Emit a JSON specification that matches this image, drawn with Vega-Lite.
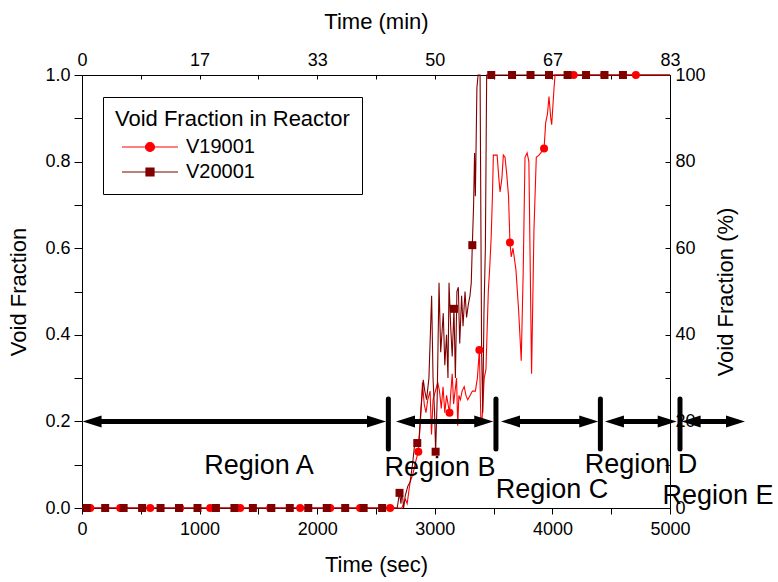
{
"$schema": "https://vega.github.io/schema/vega-lite/v6.json",
"width": 588, "height": 433,
"autosize": {"type": "none"},
"padding": {"left": 82, "top": 75, "right": 108, "bottom": 74},
"background": "white",
"config": {
  "view": {"stroke": null},
  "font": "Liberation Sans",
  "axis": {"domainColor": "black", "domainWidth": 1, "tickColor": "black", "tickWidth": 1, "labelColor": "black", "titleColor": "black", "labelFont": "Liberation Sans", "titleFont": "Liberation Sans", "labelFontSize": 18, "titleFontSize": 22, "titleFontWeight": "normal", "grid": false, "labelOverlap": false, "labelFlush": false},
  "legend": {"orient": "none", "legendX": 21, "legendY": 22, "padding": 12, "strokeColor": "black", "fillColor": "white",
    "titleFont": "Liberation Sans", "titleFontSize": 22, "titleFontWeight": "normal", "titleColor": "black", "titlePadding": 6, "titleLimit": 500,
    "labelFont": "Liberation Sans", "labelFontSize": 20, "labelColor": "black", "rowPadding": 5, "labelLimit": 300,
    "symbolSize": 64, "symbolOffset": 25, "labelOffset": 26, "symbolStrokeWidth": 1.2}
},
"datasets": {
  "curves": [
    {"series":"V19001","t":0,"v":0},{"series":"V19001","t":2700,"v":0},{"series":"V19001","t":2720,"v":0},{"series":"V19001","t":2750,"v":0.02},{"series":"V19001","t":2765,"v":0.01},{"series":"V19001","t":2790,"v":0.06},{"series":"V19001","t":2815,"v":0.08},{"series":"V19001","t":2840,"v":0.11},{"series":"V19001","t":2860,"v":0.13},{"series":"V19001","t":2878,"v":0.2},{"series":"V19001","t":2895,"v":0.29},{"series":"V19001","t":2910,"v":0.24},{"series":"V19001","t":2925,"v":0.22},{"series":"V19001","t":2940,"v":0.25},{"series":"V19001","t":2960,"v":0.27},{"series":"V19001","t":2972,"v":0.17},{"series":"V19001","t":2985,"v":0.25},{"series":"V19001","t":3005,"v":0.27},{"series":"V19001","t":3025,"v":0.29},{"series":"V19001","t":3040,"v":0.27},{"series":"V19001","t":3055,"v":0.23},{"series":"V19001","t":3070,"v":0.28},{"series":"V19001","t":3085,"v":0.22},{"series":"V19001","t":3100,"v":0.26},{"series":"V19001","t":3125,"v":0.22},{"series":"V19001","t":3137,"v":0.27},{"series":"V19001","t":3148,"v":0.31},{"series":"V19001","t":3160,"v":0.24},{"series":"V19001","t":3172,"v":0.27},{"series":"V19001","t":3185,"v":0.30},{"series":"V19001","t":3195,"v":0.19},{"series":"V19001","t":3205,"v":0.26},{"series":"V19001","t":3218,"v":0.25},{"series":"V19001","t":3232,"v":0.27},{"series":"V19001","t":3250,"v":0.28},{"series":"V19001","t":3265,"v":0.26},{"series":"V19001","t":3280,"v":0.25},{"series":"V19001","t":3300,"v":0.26},{"series":"V19001","t":3320,"v":0.27},{"series":"V19001","t":3345,"v":0.27},{"series":"V19001","t":3362,"v":0.30},{"series":"V19001","t":3379,"v":0.365},{"series":"V19001","t":3392,"v":0.2},{"series":"V19001","t":3403,"v":0.21},{"series":"V19001","t":3420,"v":0.30},{"series":"V19001","t":3435,"v":0.32},{"series":"V19001","t":3455,"v":0.50},{"series":"V19001","t":3468,"v":0.56},{"series":"V19001","t":3480,"v":0.63},{"series":"V19001","t":3490,"v":0.72},{"series":"V19001","t":3498,"v":0.815},{"series":"V19001","t":3530,"v":0.815},{"series":"V19001","t":3545,"v":0.76},{"series":"V19001","t":3555,"v":0.73},{"series":"V19001","t":3570,"v":0.76},{"series":"V19001","t":3583,"v":0.815},{"series":"V19001","t":3597,"v":0.81},{"series":"V19001","t":3612,"v":0.77},{"series":"V19001","t":3627,"v":0.72},{"series":"V19001","t":3639,"v":0.613},{"series":"V19001","t":3650,"v":0.58},{"series":"V19001","t":3665,"v":0.60},{"series":"V19001","t":3690,"v":0.55},{"series":"V19001","t":3712,"v":0.46},{"series":"V19001","t":3735,"v":0.34},{"series":"V19001","t":3752,"v":0.55},{"series":"V19001","t":3767,"v":0.81},{"series":"V19001","t":3785,"v":0.82},{"series":"V19001","t":3800,"v":0.80},{"series":"V19001","t":3823,"v":0.31},{"series":"V19001","t":3843,"v":0.64},{"series":"V19001","t":3863,"v":0.81},{"series":"V19001","t":3886,"v":0.815},{"series":"V19001","t":3929,"v":0.83},{"series":"V19001","t":3943,"v":0.89},{"series":"V19001","t":3958,"v":0.91},{"series":"V19001","t":3971,"v":0.95},{"series":"V19001","t":3986,"v":0.90},{"series":"V19001","t":3994,"v":0.885},{"series":"V19001","t":4014,"v":0.97},{"series":"V19001","t":4023,"v":1.0},{"series":"V19001","t":5000,"v":1.0},
    {"series":"V20001","t":0,"v":0},{"series":"V20001","t":2680,"v":0},{"series":"V20001","t":2700,"v":0.035},{"series":"V20001","t":2712,"v":0.01},{"series":"V20001","t":2722,"v":0.04},{"series":"V20001","t":2735,"v":0.0},{"series":"V20001","t":2750,"v":0.03},{"series":"V20001","t":2770,"v":0.05},{"series":"V20001","t":2790,"v":0.06},{"series":"V20001","t":2810,"v":0.10},{"series":"V20001","t":2830,"v":0.15},{"series":"V20001","t":2851,"v":0.15},{"series":"V20001","t":2866,"v":0.16},{"series":"V20001","t":2880,"v":0.22},{"series":"V20001","t":2902,"v":0.296},{"series":"V20001","t":2915,"v":0.27},{"series":"V20001","t":2930,"v":0.25},{"series":"V20001","t":2950,"v":0.30},{"series":"V20001","t":2973,"v":0.49},{"series":"V20001","t":2985,"v":0.30},{"series":"V20001","t":2998,"v":0.22},{"series":"V20001","t":3007,"v":0.13},{"series":"V20001","t":3020,"v":0.25},{"series":"V20001","t":3036,"v":0.52},{"series":"V20001","t":3050,"v":0.36},{"series":"V20001","t":3060,"v":0.40},{"series":"V20001","t":3072,"v":0.45},{"series":"V20001","t":3085,"v":0.33},{"series":"V20001","t":3100,"v":0.40},{"series":"V20001","t":3112,"v":0.30},{"series":"V20001","t":3121,"v":0.52},{"series":"V20001","t":3135,"v":0.42},{"series":"V20001","t":3148,"v":0.35},{"series":"V20001","t":3163,"v":0.46},{"series":"V20001","t":3175,"v":0.30},{"series":"V20001","t":3188,"v":0.50},{"series":"V20001","t":3200,"v":0.51},{"series":"V20001","t":3212,"v":0.38},{"series":"V20001","t":3228,"v":0.49},{"series":"V20001","t":3240,"v":0.42},{"series":"V20001","t":3257,"v":0.50},{"series":"V20001","t":3270,"v":0.44},{"series":"V20001","t":3285,"v":0.47},{"series":"V20001","t":3299,"v":0.49},{"series":"V20001","t":3310,"v":0.52},{"series":"V20001","t":3319,"v":0.607},{"series":"V20001","t":3330,"v":0.70},{"series":"V20001","t":3338,"v":0.82},{"series":"V20001","t":3345,"v":0.72},{"series":"V20001","t":3358,"v":0.97},{"series":"V20001","t":3368,"v":1.0},{"series":"V20001","t":3385,"v":1.0},{"series":"V20001","t":3398,"v":0.36},{"series":"V20001","t":3408,"v":0.22},{"series":"V20001","t":3418,"v":0.45},{"series":"V20001","t":3430,"v":0.6},{"series":"V20001","t":3441,"v":1.0},{"series":"V20001","t":5000,"v":1.0}
  ],
  "symbols": [
    {"series":"V20001","t":40,"v":0},{"series":"V20001","t":197,"v":0},{"series":"V20001","t":354,"v":0},{"series":"V20001","t":511,"v":0},{"series":"V20001","t":668,"v":0},{"series":"V20001","t":825,"v":0},{"series":"V20001","t":982,"v":0},{"series":"V20001","t":1139,"v":0},{"series":"V20001","t":1296,"v":0},{"series":"V20001","t":1453,"v":0},{"series":"V20001","t":1610,"v":0},{"series":"V20001","t":1767,"v":0},{"series":"V20001","t":1924,"v":0},{"series":"V20001","t":2081,"v":0},{"series":"V20001","t":2238,"v":0},{"series":"V20001","t":2395,"v":0},{"series":"V20001","t":2552,"v":0},{"series":"V20001","t":2700,"v":0.035},{"series":"V20001","t":2851,"v":0.15},{"series":"V20001","t":3007,"v":0.13},{"series":"V20001","t":3163,"v":0.46},{"series":"V20001","t":3319,"v":0.607},{"series":"V20001","t":3480,"v":1},{"series":"V20001","t":3657,"v":1},{"series":"V20001","t":3814,"v":1},{"series":"V20001","t":3971,"v":1},{"series":"V20001","t":4129,"v":1},{"series":"V20001","t":4286,"v":1},{"series":"V20001","t":4443,"v":1},{"series":"V20001","t":4600,"v":1},
    {"series":"V19001","t":70,"v":0},{"series":"V19001","t":325,"v":0},{"series":"V19001","t":580,"v":0},{"series":"V19001","t":835,"v":0},{"series":"V19001","t":1090,"v":0},{"series":"V19001","t":1345,"v":0},{"series":"V19001","t":1600,"v":0},{"series":"V19001","t":1855,"v":0},{"series":"V19001","t":2110,"v":0},{"series":"V19001","t":2365,"v":0},{"series":"V19001","t":2620,"v":0},{"series":"V19001","t":2860,"v":0.13},{"series":"V19001","t":3125,"v":0.22},{"series":"V19001","t":3379,"v":0.365},{"series":"V19001","t":3639,"v":0.613},{"series":"V19001","t":3929,"v":0.83},{"series":"V19001","t":4180,"v":1},{"series":"V19001","t":4440,"v":1},{"series":"V19001","t":4710,"v":1}
  ],
  "arrows": [
    {"t1":5,"t2":2585,"s1":80,"s2":2510,"v":0.2},
    {"t1":2670,"t2":3497,"s1":2745,"s2":3422,"v":0.2},
    {"t1":3563,"t2":4390,"s1":3638,"s2":4315,"v":0.2},
    {"t1":4447,"t2":5057,"s1":4522,"s2":4982,"v":0.2},
    {"t1":5099,"t2":5638,"s1":5174,"s2":5563,"v":0.2}
  ],
  "bars": [
    {"t":2605,"v1":0.136,"v2":0.252},{"t":3520,"v1":0.136,"v2":0.252},{"t":4408,"v1":0.136,"v2":0.252},{"t":5085,"v1":0.136,"v2":0.252}
  ],
  "labels": [
    {"label":"Region A","t":1505,"v":0.097},{"label":"Region B","t":3044,"v":0.092},{"label":"Region C","t":3997,"v":0.042},{"label":"Region D","t":4754,"v":0.099},{"label":"Region E","t":5408,"v":0.028}
  ],
  "axes2": [{"t":0,"pct":0},{"t":5000,"pct":100}]
},
"layer": [
  {"layer": [
    {"data": {"values": []}, "mark": {"type": "point", "filled": true, "size": 64, "opacity": 1, "strokeWidth": 1.2},
     "encoding": {
       "color": {"field": "series", "type": "nominal", "legend": {"title": "Void Fraction in Reactor"}},
       "shape": {"field": "series", "type": "nominal", "scale": {"domain": ["V19001", "V20001"], "range": ["M-7,0H7M1.125,0A1.125,1.125,0,1,1,-1.125,0A1.125,1.125,0,1,1,1.125,0Z", "M-7,0H7M-1,-1H1V1H-1Z"]}, "legend": {"title": "Void Fraction in Reactor"}},
       "stroke": {"field": "series", "type": "nominal", "scale": {"domain": ["V19001", "V20001"], "range": ["#ff0000", "#b06060"]}, "legend": {"title": "Void Fraction in Reactor"}}
     }},
    {"data": {"name": "curves"}, "mark": {"type": "line", "strokeWidth": 1.1},
     "encoding": {
       "x": {"field": "t", "type": "quantitative", "scale": {"domain": [0, 5000], "nice": false, "zero": false},
             "axis": {"orient": "bottom", "title": "Time (sec)", "values": [0,500,1000,1500,2000,2500,3000,3500,4000,4500,5000], "format": "d", "labelExpr": "datum.value % 1000 === 0 ? datum.label : ''", "tickSize": 6, "labelPadding": 6, "titlePadding": 16}},
       "y": {"field": "v", "type": "quantitative", "scale": {"domain": [0, 1], "nice": false},
             "axis": {"orient": "left", "title": "Void Fraction", "values": [0,0.1,0.2,0.3,0.4,0.5,0.6,0.7,0.8,0.9,1.0], "format": ".1f", "labelExpr": "indexof(['0.0','0.2','0.4','0.6','0.8','1.0'], datum.label) >= 0 ? datum.label : ''", "tickSize": 8, "labelPadding": 4, "titlePadding": 14}},
       "color": {"field": "series", "type": "nominal", "scale": {"domain": ["V19001", "V20001"], "range": ["#ff0000", "#800000"]}, "legend": null}
     }},
    {"data": {"name": "symbols"}, "transform": [{"filter": "datum.series === 'V19001'"}], "mark": {"type": "point", "shape": "circle", "filled": true, "size": 64, "opacity": 1},
     "encoding": {
       "x": {"field": "t", "type": "quantitative"},
       "y": {"field": "v", "type": "quantitative"},
       "color": {"field": "series", "type": "nominal", "legend": null}
     }},
    {"data": {"name": "symbols"}, "transform": [{"filter": "datum.series === 'V20001'"}], "mark": {"type": "point", "shape": "square", "filled": true, "size": 64, "opacity": 1},
     "encoding": {
       "x": {"field": "t", "type": "quantitative"},
       "y": {"field": "v", "type": "quantitative"},
       "color": {"field": "series", "type": "nominal", "legend": null}
     }},
    {"data": {"name": "arrows"}, "mark": {"type": "rule", "strokeWidth": 5, "color": "black"},
     "encoding": {"x": {"field": "s1", "type": "quantitative"}, "x2": {"field": "s2"}, "y": {"field": "v", "type": "quantitative"}}},
    {"data": {"name": "arrows"}, "mark": {"type": "point", "filled": true, "color": "black", "opacity": 1, "size": 361, "strokeWidth": 0, "shape": "M0,0L2,-0.63L2,0.63Z"},
     "encoding": {"x": {"field": "t1", "type": "quantitative"}, "y": {"field": "v", "type": "quantitative"}}},
    {"data": {"name": "arrows"}, "mark": {"type": "point", "filled": true, "color": "black", "opacity": 1, "size": 361, "strokeWidth": 0, "shape": "M0,0L-2,-0.63L-2,0.63Z"},
     "encoding": {"x": {"field": "t2", "type": "quantitative"}, "y": {"field": "v", "type": "quantitative"}}},
    {"data": {"name": "bars"}, "mark": {"type": "rule", "strokeWidth": 5, "strokeCap": "round", "color": "black"},
     "encoding": {"x": {"field": "t", "type": "quantitative"}, "y": {"field": "v1", "type": "quantitative"}, "y2": {"field": "v2"}}},
    {"data": {"name": "labels"}, "mark": {"type": "text", "font": "Liberation Sans", "fontSize": 27, "color": "black", "align": "center", "baseline": "middle"},
     "encoding": {"x": {"field": "t", "type": "quantitative"}, "y": {"field": "v", "type": "quantitative"}, "text": {"field": "label"}}}
  ]},
  {"data": {"name": "axes2"}, "mark": {"type": "point", "opacity": 0},
   "encoding": {
     "x": {"field": "t", "type": "quantitative", "scale": {"domain": [0, 5000], "nice": false, "zero": false},
           "axis": {"orient": "top", "title": "Time (min)", "values": [0,500,1000,1500,2000,2500,3000,3500,4000,4500,5000], "labelExpr": "datum.value % 1000 === 0 ? format(datum.value / 60, '.0f') : ''", "tickSize": -4, "labelPadding": 10, "titlePadding": 18}},
     "y": {"field": "pct", "type": "quantitative", "scale": {"domain": [0, 100], "nice": false},
           "axis": {"orient": "right", "title": "Void Fraction (%)", "values": [0,10,20,30,40,50,60,70,80,90,100], "labelExpr": "datum.value % 20 === 0 ? datum.label : ''", "tickSize": -5, "labelPadding": 10, "titlePadding": 10, "titleAngle": 270, "titleBaseline": "top"}}
   }}
],
"resolve": {"scale": {"y": "independent"}, "axis": {"x": "independent", "y": "independent"}}
}
